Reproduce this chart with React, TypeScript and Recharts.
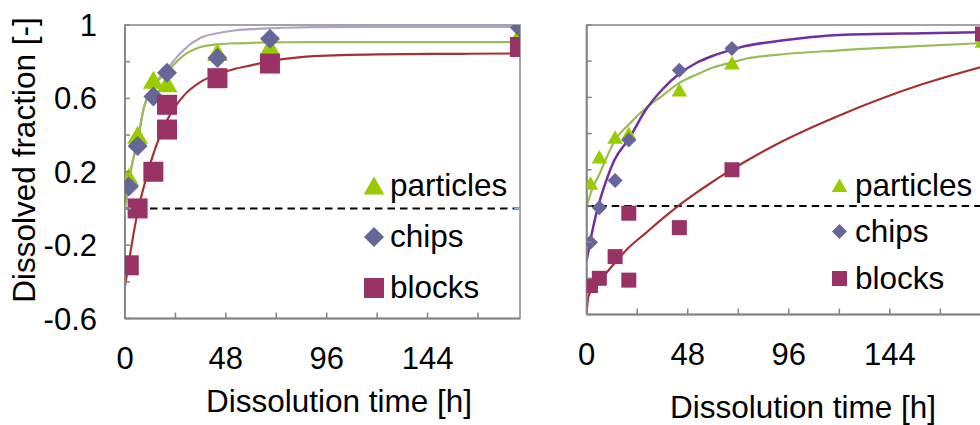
import React from 'react';
import { ComposedChart, Line, Scatter, XAxis, YAxis, ReferenceArea, Legend } from 'recharts';

// sampling times [h] (blocks have a duplicate sample at 20 h)
const SAMPLE_T = [1.8, 6, 13.5, 20, 44, 69, 188];
const BLOCK_T = [1.8, 6, 13.5, 20, 20, 44, 69, 188];

// left panel - measured dissolved fraction
const L_PARTICLES = [0.17, 0.4, 0.7, 0.68, 0.85, 0.88, 0.95];
const L_CHIPS = [0.12, 0.34, 0.61, 0.74, 0.82, 0.925, 0.985];
const L_BLOCKS = [-0.31, 0.0, 0.2, 0.565, 0.43, 0.71, 0.79, 0.88];

// right panel - measured dissolved fraction
const R_PARTICLES = [0.125, 0.27, 0.38, 0.4, 0.64, 0.79, 0.91];
const R_CHIPS = [-0.2, -0.01, 0.14, 0.365, 0.75, 0.87, 0.955];
const R_BLOCKS = [-0.44, -0.4, -0.28, -0.04, -0.41, -0.12, 0.2, 0.95];

// fitted curves at these times
const FIT_T = [0, 3, 6, 9, 13, 20, 28, 36, 44, 52, 60, 68, 76, 90, 120, 160, 188];
const L_FIT_CHIPS = [0, 0.22, 0.37, 0.55, 0.655, 0.76, 0.865, 0.93, 0.955, 0.97, 0.977, 0.982, 0.985, 0.988, 0.99, 0.99, 0.99];
const L_FIT_PARTICLES = [0, 0.22, 0.37, 0.55, 0.655, 0.745, 0.835, 0.88, 0.895, 0.9, 0.903, 0.905, 0.906, 0.907, 0.907, 0.907, 0.907];
const L_FIT_BLOCKS = [-0.425, -0.21, -0.02, 0.12, 0.28, 0.48, 0.615, 0.69, 0.73, 0.76, 0.78, 0.8, 0.815, 0.83, 0.84, 0.843, 0.845];
const R_FIT_CHIPS = [-0.3, -0.12, 0.02, 0.13, 0.25, 0.37, 0.53, 0.645, 0.73, 0.79, 0.83, 0.86, 0.885, 0.91, 0.945, 0.955, 0.96];
const R_FIT_PARTICLES = [0, 0.105, 0.175, 0.255, 0.355, 0.45, 0.54, 0.61, 0.68, 0.725, 0.765, 0.79, 0.815, 0.835, 0.86, 0.885, 0.9];
const R_FIT_BLOCKS_T = [0, 0.8, 3, 6, 9, 13, 20, 28, 36, 44, 52, 60, 68, 76, 90, 120, 160, 188];
const R_FIT_BLOCKS = [-0.59, -0.5, -0.46, -0.415, -0.375, -0.32, -0.23, -0.15, -0.07, 0.005, 0.072, 0.135, 0.195, 0.25, 0.34, 0.5, 0.675, 0.77];

// zero reference line
const DASH_T = [0, 188];
const DASH_Y = [0, 0];

const X_TICKS = [0, 24, 48, 72, 96, 120, 144, 168];
const X_LABELS = [0, 48, 96, 144];
const Y_TICKS = [-0.6, -0.4, -0.2, 0, 0.2, 0.4, 0.6, 0.8, 1];
const Y_LABELS = [1, 0.6, 0.2, -0.2, -0.6];
const LEGEND_NAMES = ['particles', 'chips', 'blocks'];

const FONT = '"Liberation Sans", Arial, sans-serif';
const AXIS = '#868686';
const C_TRI = '#99cc00';
const C_DIA = '#666699';
const C_SQ = '#993366';

type Pt = { t: number; y: number };
const pts = (ts: number[], ys: number[]): Pt[] => ts.map((t, i) => ({ t, y: ys[i] }));

const triangle = (s: number) => (p: any) => (
  <polygon
    points={`${p.cx},${p.cy - s * 0.47} ${p.cx + s * 0.52},${p.cy + s * 0.43} ${p.cx - s * 0.52},${p.cy + s * 0.43}`}
    fill={C_TRI}
  />
);
const diamond = (s: number) => (p: any) => (
  <polygon
    points={`${p.cx},${p.cy - s / 2} ${p.cx + s / 2},${p.cy} ${p.cx},${p.cy + s / 2} ${p.cx - s / 2},${p.cy}`}
    fill={C_DIA}
  />
);
const square = (s: number) => (p: any) => (
  <rect x={p.cx - s / 2} y={p.cy - s / 2} width={s} height={s} fill={C_SQ} />
);

const PlusDot = (p: any) => (
  <path
    key={p.index}
    d={`M${p.cx - 6},${p.cy}H${p.cx + 6}M${p.cx},${p.cy - 6}V${p.cy + 6}`}
    stroke="#8eb4e3"
    strokeWidth={1.5}
  />
);

const XTick = (p: any) => (
  <g>
    <line x1={p.x} y1={p.y} x2={p.x} y2={p.y - 6} stroke={AXIS} strokeWidth={1.5} />
    {X_LABELS.includes(p.payload.value) && (
      <text x={p.x} y={p.y} dy={p.labelDy} textAnchor="middle" fontSize={31} fontFamily={FONT} fill="#000">
        {p.payload.value}
      </text>
    )}
  </g>
);

const YTick = (p: any) => (
  <g>
    <line x1={p.x} y1={p.y} x2={p.x + 5} y2={p.y} stroke={AXIS} strokeWidth={1.5} />
    {p.show && Y_LABELS.includes(p.payload.value) && (
      <text x={p.x - 28} y={p.y} dy={11} textAnchor="end" fontSize={31} fontFamily={FONT} fill="#000">
        {p.payload.value}
      </text>
    )}
  </g>
);

const LegendBox = ({ size, rowH, gap }: { size: number; rowH: number; gap: number }) => {
  const marks = [triangle(size), diamond(size), square(size)];
  return (
    <div style={{ fontFamily: FONT, fontSize: 31.5, color: '#000' }}>
      {LEGEND_NAMES.map((name, i) => (
        <div key={name} style={{ height: rowH, display: 'flex', alignItems: 'center' }}>
          <svg width={size} height={size} style={{ overflow: 'visible' }}>
            {marks[i]({ cx: size / 2, cy: size / 2 })}
          </svg>
          <span style={{ marginLeft: gap, whiteSpace: 'nowrap' }}>{name}</span>
        </div>
      ))}
    </div>
  );
};

type PanelCfg = {
  width: number;
  yAxisWidth: number;
  marginRight: number;
  marginBottom: number;
  marker: number;
  labelDy: number;
  showYLabels: boolean;
  plusEnds: boolean;
  particles: Pt[];
  chips: Pt[];
  blocks: Pt[];
  fits: { name: string; data: Pt[]; color: string; width: number }[];
  legend: { left: number; top: number; size: number; rowH: number; gap: number };
};

const Panel = ({ cfg }: { cfg: PanelCfg }) => (
  <ComposedChart
    width={cfg.width}
    height={425}
    margin={{ top: 25, right: cfg.marginRight, bottom: cfg.marginBottom, left: 0 }}
  >
    <XAxis
      type="number"
      dataKey="t"
      domain={[0, 188]}
      ticks={X_TICKS}
      interval={0}
      allowDataOverflow
      height={60}
      tickSize={0}
      tickMargin={0}
      tickLine={false}
      axisLine={{ stroke: AXIS, strokeWidth: 2 }}
      tick={(p: any) => <XTick {...p} labelDy={cfg.labelDy} />}
    />
    <YAxis
      type="number"
      dataKey="y"
      domain={[-0.6, 1]}
      ticks={Y_TICKS}
      interval={0}
      allowDataOverflow
      width={cfg.yAxisWidth}
      tickSize={0}
      tickMargin={0}
      tickLine={false}
      axisLine={{ stroke: AXIS, strokeWidth: 2 }}
      tick={(p: any) => <YTick {...p} show={cfg.showYLabels} />}
    />
    <ReferenceArea x1={0} x2={188} y1={-0.6} y2={1} fill="none" stroke={AXIS} strokeWidth={1.5} />
    <Line
      data={pts(DASH_T, DASH_Y)}
      dataKey="y"
      stroke="#000"
      strokeWidth={2}
      strokeDasharray="7.5 5"
      dot={cfg.plusEnds ? PlusDot : false}
      activeDot={false}
      legendType="none"
      isAnimationActive={false}
    />
    {cfg.fits.map((f) => (
      <Line
        key={f.name}
        data={f.data}
        dataKey="y"
        type="monotone"
        stroke={f.color}
        strokeWidth={f.width}
        dot={false}
        activeDot={false}
        legendType="none"
        isAnimationActive={false}
      />
    ))}
    <Scatter name="particles" data={cfg.particles} dataKey="y" shape={triangle(cfg.marker)} isAnimationActive={false} />
    <Scatter name="chips" data={cfg.chips} dataKey="y" shape={diamond(cfg.marker)} isAnimationActive={false} />
    <Scatter name="blocks" data={cfg.blocks} dataKey="y" shape={square(cfg.marker)} isAnimationActive={false} />
    <Legend
      layout="vertical"
      align="center"
      verticalAlign="middle"
      wrapperStyle={{ left: cfg.legend.left, top: cfg.legend.top, width: 200 }}
      content={() => <LegendBox size={cfg.legend.size} rowH={cfg.legend.rowH} gap={cfg.legend.gap} />}
    />
  </ComposedChart>
);

const LEFT: PanelCfg = {
  width: 540,
  yAxisWidth: 125,
  marginRight: 20,
  marginBottom: 46.5,
  marker: 20,
  labelDy: 50,
  showYLabels: true,
  plusEnds: true,
  particles: pts(SAMPLE_T, L_PARTICLES),
  chips: pts(SAMPLE_T, L_CHIPS),
  blocks: pts(BLOCK_T, L_BLOCKS),
  fits: [
    { name: 'chips-fit', data: pts(FIT_T, L_FIT_CHIPS), color: '#b3a2c7', width: 2.2 },
    { name: 'particles-fit', data: pts(FIT_T, L_FIT_PARTICLES), color: '#9bbb59', width: 2.2 },
    { name: 'blocks-fit', data: pts(FIT_T, L_FIT_BLOCKS), color: '#a33232', width: 2.2 },
  ],
  legend: { left: 364.3, top: 160.6, size: 20, rowH: 50.8, gap: 5.7 },
};

const RIGHT: PanelCfg = {
  width: 450,
  yAxisWidth: 46.7,
  marginRight: 7.5,
  marginBottom: 50.5,
  marker: 15,
  labelDy: 50,
  showYLabels: false,
  plusEnds: false,
  particles: pts(SAMPLE_T, R_PARTICLES),
  chips: pts(SAMPLE_T, R_CHIPS),
  blocks: pts(BLOCK_T, R_BLOCKS),
  fits: [
    { name: 'particles-fit', data: pts(FIT_T, R_FIT_PARTICLES), color: '#9bbb59', width: 2.2 },
    { name: 'chips-fit', data: pts(FIT_T, R_FIT_CHIPS), color: '#7030a0', width: 2.5 },
    { name: 'blocks-fit', data: pts(R_FIT_BLOCKS_T, R_FIT_BLOCKS), color: '#a33232', width: 2.2 },
  ],
  legend: { left: 291.8, top: 161.7, size: 15, rowH: 46.7, gap: 8.2 },
};

export default function App() {
  return (
    <div
      style={{
        position: 'fixed',
        left: 0,
        top: 0,
        width: 980,
        height: 425,
        overflow: 'hidden',
        background: '#fff',
        fontFamily: FONT,
      }}
    >
      <div style={{ position: 'absolute', left: 0, top: 0 }}>
        <Panel cfg={LEFT} />
      </div>
      <div style={{ position: 'absolute', left: 540, top: 0 }}>
        <Panel cfg={RIGHT} />
      </div>
      <svg width={980} height={425} style={{ position: 'absolute', left: 0, top: 0, pointerEvents: 'none' }}>
        <text transform="translate(35,160) rotate(-90)" textAnchor="middle" fontSize={31.5} fontFamily={FONT} fill="#000">
          Dissolved fraction [-]
        </text>
        <text x={339} y={412} textAnchor="middle" fontSize={31.5} fontFamily={FONT} fill="#000">
          Dissolution time [h]
        </text>
        <text x={803} y={418} textAnchor="middle" fontSize={31.5} fontFamily={FONT} fill="#000">
          Dissolution time [h]
        </text>
      </svg>
    </div>
  );
}
